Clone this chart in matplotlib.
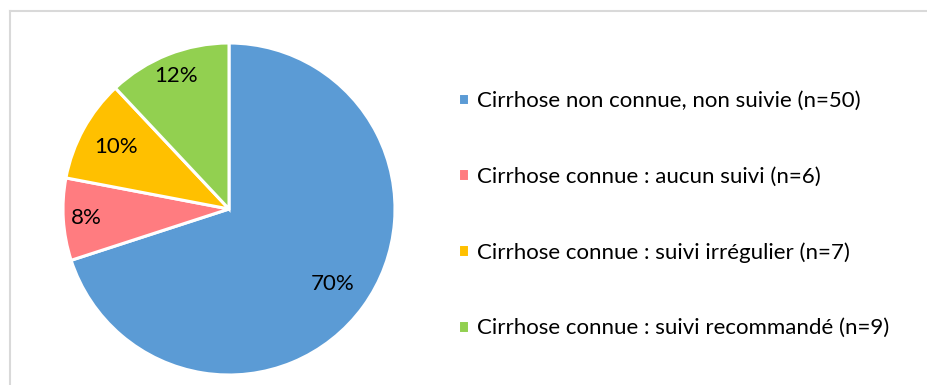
import numpy as np
import matplotlib.pyplot as plt
from matplotlib.lines import Line2D

labels = [
    "Cirrhose non connue, non suivie (n=50)",
    "Cirrhose connue : aucun suivi (n=6)",
    "Cirrhose connue : suivi irrégulier (n=7)",
    "Cirrhose connue : suivi recommandé (n=9)",
]
percents = [70, 8, 10, 12]
colors = ["#5B9BD5", "#FF7C80", "#FFC000", "#92D050"]
# radial position of each percentage label (fraction of radius)
label_radius = [0.77, 0.86, 0.78, 0.86]

plt.rcParams['font.family'] = ['Lato', 'DejaVu Sans']

W, H = 928, 385
fig = plt.figure(figsize=(W / 100, H / 100), dpi=100)

# pie axes: center (229, 209) px from top, radius 166 px
cx, cy, r = 229, 209, 166
ax = fig.add_axes([(cx - r) / W, (H - cy - r) / H, 2 * r / W, 2 * r / H])
wedges, _ = ax.pie(percents, colors=colors, startangle=90, counterclock=False,
                   radius=1, wedgeprops=dict(edgecolor="white", linewidth=2.2))
ax.set_xlim(-1, 1)
ax.set_ylim(-1, 1)
ax.set_aspect("equal")
ax.axis("off")

for w, p, lr in zip(wedges, percents, label_radius):
    ang = np.deg2rad((w.theta1 + w.theta2) / 2)
    ax.text(lr * np.cos(ang), lr * np.sin(ang), f"{p}%", ha="center", va="center",
            fontsize=16, color="#000000")

fig.legend(wedges, labels, loc="upper left", bbox_to_anchor=(458 / W, 1 - 91 / H),
           frameon=False, fontsize=16, handlelength=0.5, handleheight=0.5,
           handletextpad=0.35, labelspacing=2.5, borderaxespad=0, borderpad=0)

# chart area border (top and left edges visible)
border = "#D9D9D9"
fig.add_artist(Line2D([10 / W, 1], [1 - 11 / H] * 2, color=border, lw=1.5))
fig.add_artist(Line2D([10 / W] * 2, [0, 1 - 11 / H], color=border, lw=1.5))

fig.savefig("out.png", dpi=100)
